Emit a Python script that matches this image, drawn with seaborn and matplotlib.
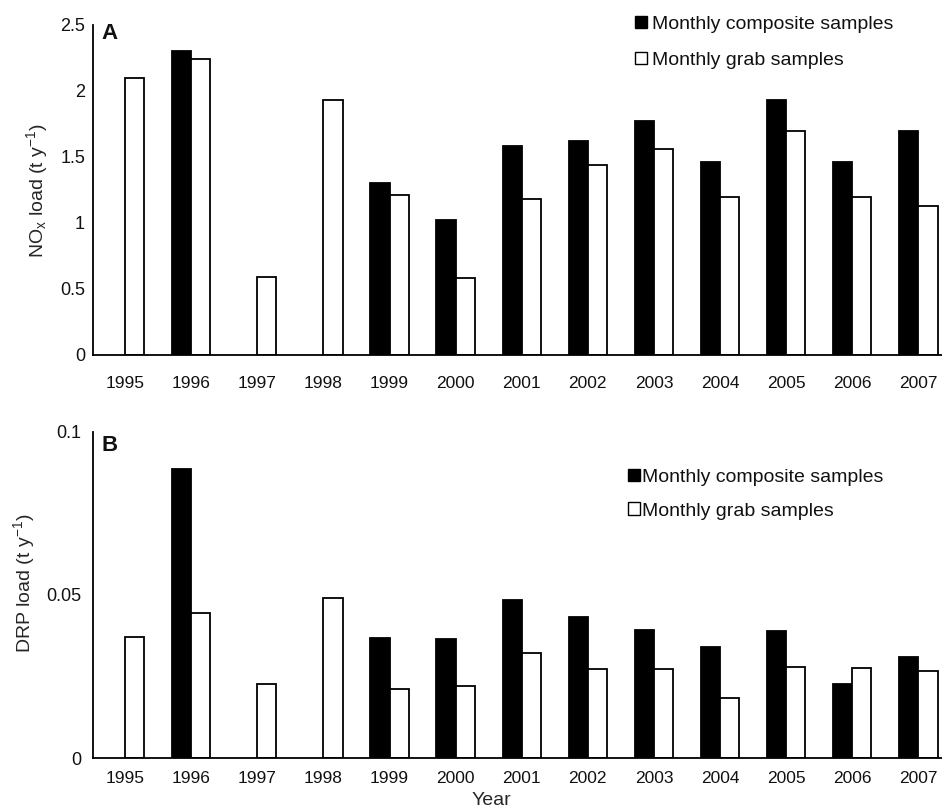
import numpy as np
import pandas as pd
import matplotlib
matplotlib.use("Agg")
import matplotlib.pyplot as plt
from matplotlib.patches import Patch
import seaborn as sns

# data
years = ["1995", "1996", "1997", "1998", "1999", "2000", "2001",
         "2002", "2003", "2004", "2005", "2006", "2007"]
series = ["Monthly composite samples", "Monthly grab samples"]

nox_composite = [np.nan, 2.30, np.nan, np.nan, 1.30, 1.02, 1.58,
                 1.62, 1.77, 1.46, 1.93, 1.46, 1.70]
nox_grab = [2.10, 2.24, 0.59, 1.93, 1.21, 0.58, 1.18,
            1.44, 1.56, 1.20, 1.70, 1.20, 1.13]

drp_composite = [np.nan, 0.0885, np.nan, np.nan, 0.0367, 0.0364, 0.0485,
                 0.0432, 0.0393, 0.0342, 0.0391, 0.0227, 0.0311]
drp_grab = [0.0370, 0.0444, 0.0227, 0.0490, 0.0211, 0.0222, 0.0323,
            0.0274, 0.0273, 0.0184, 0.0280, 0.0275, 0.0267]

sns.set_theme(style="white")
plt.rcParams['font.family'] = ['Liberation Sans', 'DejaVu Sans']
plt.rcParams['mathtext.default'] = 'regular'
plt.rcParams['text.color'] = '#111111'

colors = {series[0]: "black", series[1]: "white"}


def long_frame(comp, grab):
    df = pd.DataFrame({"Year": years * 2,
                       "Sample": [series[0]] * len(years) + [series[1]] * len(years),
                       "Load": list(comp) + list(grab)})
    return df


def draw_panel(ax, comp, grab, ylim, yticks, yticklabels, ylabel, letter,
               xpad, ypad, ylab_xy, letter_y):
    df = long_frame(comp, grab)
    sns.barplot(data=df, x="Year", y="Load", hue="Sample", order=years,
                hue_order=series, palette=colors, width=0.58, gap=0,
                edgecolor="black", linewidth=1.3, errorbar=None, ax=ax,
                legend=False)
    ax.set_xlim(-0.49, 12.5)
    ax.set_ylim(*ylim)
    ax.set_yticks(yticks)
    ax.set_yticklabels(yticklabels)
    ax.set_xlabel("")
    ax.set_ylabel(ylabel, fontsize=14)
    ax.yaxis.set_label_coords(*ylab_xy)
    for side in ["top", "right"]:
        ax.spines[side].set_visible(False)
    for side in ["left", "bottom"]:
        ax.spines[side].set_color("black")
        ax.spines[side].set_linewidth(1.3)
    ax.tick_params(axis="x", length=0, pad=xpad, labelsize=12.5, colors="#111111")
    ax.tick_params(axis="y", length=0, pad=ypad, labelsize=13, colors="#111111")
    ax.text(0.01, letter_y, letter, transform=ax.transAxes, fontsize=16,
            fontweight="bold", va="top", ha="left")


fig = plt.figure(figsize=(9.42, 8.11), dpi=100)
ax_a = fig.add_axes([0.0984, 0.5623, 0.9116, 0.4069])
ax_b = fig.add_axes([0.0984, 0.0650, 0.9116, 0.4027])

draw_panel(ax_a, nox_composite, nox_grab, (0, 2.5),
           [0, 0.5, 1, 1.5, 2, 2.5], ["0", "0.5", "1", "1.5", "2", "2.5"],
           "NO$_{x}$ load (t y$^{-1}$)", "A", 15, 5.5, (-0.05, 0.5), 1.005)
draw_panel(ax_b, drp_composite, drp_grab, (0, 0.1),
           [0, 0.05, 0.1], ["0", "0.05", "0.1"],
           "DRP load (t y$^{-1}$)", "B", 9, 8, (-0.065, 0.537), 0.99)

handles = [Patch(facecolor=colors[s], edgecolor="black", linewidth=1.0, label=s)
           for s in series]
ax_a.legend(handles=handles, loc="upper left", bbox_to_anchor=(0.6315, 1.027),
            frameon=False, fontsize=14, handlelength=0.6, handleheight=0.6,
            handletextpad=0.3, labelspacing=0.95, borderpad=0, borderaxespad=0)
ax_b.legend(handles=handles, loc="upper left", bbox_to_anchor=(0.6234, 0.886),
            frameon=False, fontsize=14, handlelength=0.6, handleheight=0.6,
            handletextpad=0.12, labelspacing=0.85, borderpad=0, borderaxespad=0)

ax_b.set_xlabel("Year", fontsize=14)
ax_b.xaxis.set_label_coords(0.464, -0.103)

fig.savefig("out.png", dpi=100)
